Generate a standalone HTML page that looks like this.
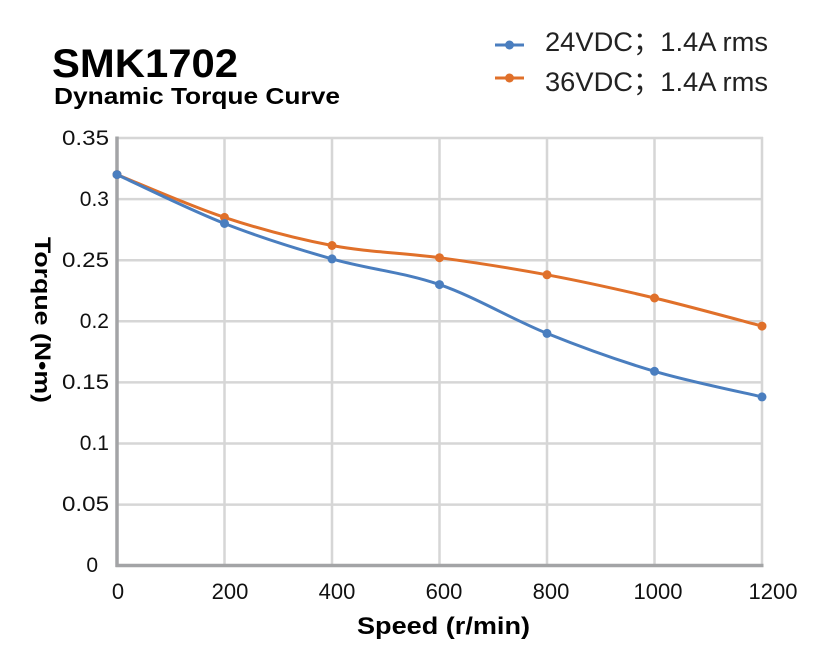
<!DOCTYPE html>
<html>
<head>
<meta charset="utf-8">
<style>
  html, body { margin: 0; padding: 0; background: #ffffff; }
  svg { display: block; }
  text { font-family: "Liberation Sans", "Noto Sans CJK SC", sans-serif; }
</style>
</head>
<body>
<svg width="831" height="660" viewBox="0 0 831 660" xmlns="http://www.w3.org/2000/svg">
  <rect width="831" height="660" fill="#ffffff"/>

  <!-- Title -->
  <text x="52" y="77" font-size="40" font-weight="bold" fill="#000" textLength="186" lengthAdjust="spacingAndGlyphs">SMK1702</text>
  <text x="54" y="104" font-size="23" font-weight="bold" fill="#000" textLength="286" lengthAdjust="spacingAndGlyphs">Dynamic Torque Curve</text>

  <!-- Legend -->
  <line x1="495" y1="45" x2="524" y2="45" stroke="#4A7EBF" stroke-width="3"/>
  <circle cx="509.5" cy="45" r="4.5" fill="#4A7EBF"/>
  <text x="545" y="51" font-size="27" fill="#222" textLength="223" lengthAdjust="spacingAndGlyphs">24VDC；1.4A rms</text>
  <line x1="495" y1="78" x2="524" y2="78" stroke="#E0702A" stroke-width="3"/>
  <circle cx="509.5" cy="78" r="4.5" fill="#E0702A"/>
  <text x="545" y="91" font-size="27" fill="#222" textLength="223" lengthAdjust="spacingAndGlyphs">36VDC；1.4A rms</text>

  <!-- Gridlines -->
  <g stroke="#d6d6d6" stroke-width="2.5">
    <line x1="117" y1="138" x2="763" y2="138"/>
    <line x1="117" y1="199.1" x2="763" y2="199.1"/>
    <line x1="117" y1="260.2" x2="763" y2="260.2"/>
    <line x1="117" y1="321.3" x2="763" y2="321.3"/>
    <line x1="117" y1="382.4" x2="763" y2="382.4"/>
    <line x1="117" y1="443.5" x2="763" y2="443.5"/>
    <line x1="117" y1="504.6" x2="763" y2="504.6"/>
    <line x1="224.5" y1="137" x2="224.5" y2="565"/>
    <line x1="332" y1="137" x2="332" y2="565"/>
    <line x1="439.5" y1="137" x2="439.5" y2="565"/>
    <line x1="547" y1="137" x2="547" y2="565"/>
    <line x1="654.5" y1="137" x2="654.5" y2="565"/>
    <line x1="762" y1="137" x2="762" y2="565"/>
  </g>

  <!-- Axes -->
  <g stroke="#a3a4a6" stroke-width="3.5">
    <line x1="117" y1="136.5" x2="117" y2="567"/>
    <line x1="115.5" y1="565.5" x2="763.5" y2="565.5"/>
  </g>

  <!-- Y tick labels -->
  <g font-size="21" fill="#111" text-anchor="end">
    <text x="109" y="145" textLength="47" lengthAdjust="spacingAndGlyphs">0.35</text>
    <text x="109" y="206">0.3</text>
    <text x="109" y="267" textLength="47" lengthAdjust="spacingAndGlyphs">0.25</text>
    <text x="109" y="328">0.2</text>
    <text x="109" y="389" textLength="47" lengthAdjust="spacingAndGlyphs">0.15</text>
    <text x="109" y="450">0.1</text>
    <text x="109" y="511" textLength="47" lengthAdjust="spacingAndGlyphs">0.05</text>
    <text x="98" y="572">0</text>
  </g>

  <!-- X tick labels -->
  <g font-size="22" fill="#111" text-anchor="middle">
    <text x="118" y="599">0</text>
    <text x="230" y="599">200</text>
    <text x="337" y="599">400</text>
    <text x="444" y="599">600</text>
    <text x="551" y="599">800</text>
    <text x="658" y="599">1000</text>
    <text x="773" y="599">1200</text>
  </g>

  <!-- Axis titles -->
  <text x="357" y="634" font-size="24" font-weight="bold" fill="#000" textLength="173" lengthAdjust="spacingAndGlyphs">Speed (r/min)</text>
  <text transform="translate(35,320) rotate(90)" x="0" y="0" font-size="22" font-weight="bold" fill="#000" text-anchor="middle" textLength="166" lengthAdjust="spacingAndGlyphs">Torque (N•m)</text>

  <!-- Orange series -->
  <path d="M117,174.6 C134.9,181.7 188.7,205.6 224.5,217.4 C260.3,229.2 296.2,238.8 332,245.5 C367.8,252.2 403.7,252.8 439.5,257.7 C475.3,262.6 511.2,268.1 547,274.8 C582.8,281.5 618.7,289.45 654.5,298 C690.3,306.55 744.1,321.4 762,326.1"
        fill="none" stroke="#E0702A" stroke-width="3" stroke-linejoin="round" stroke-linecap="round"/>
  <g fill="#E0702A">
    <circle cx="117" cy="174.6" r="4.5"/>
    <circle cx="224.5" cy="217.4" r="4.5"/>
    <circle cx="332" cy="245.5" r="4.5"/>
    <circle cx="439.5" cy="257.7" r="4.5"/>
    <circle cx="547" cy="274.8" r="4.5"/>
    <circle cx="654.5" cy="298" r="4.5"/>
    <circle cx="762" cy="326.1" r="4.5"/>
  </g>

  <!-- Blue series -->
  <path d="M117,174.6 C134.9,182.75 188.7,209.45 224.5,223.5 C260.3,237.55 296.2,248.7 332,258.9 C367.8,269.1 403.7,272.2 439.5,284.6 C475.3,297 511.2,318.95 547,333.4 C582.8,347.85 618.7,360.7 654.5,371.3 C690.3,381.9 744.1,392.6 762,396.9"
        fill="none" stroke="#4A7EBF" stroke-width="3" stroke-linejoin="round" stroke-linecap="round"/>
  <g fill="#4A7EBF">
    <circle cx="117" cy="174.6" r="4.5"/>
    <circle cx="224.5" cy="223.5" r="4.5"/>
    <circle cx="332" cy="258.9" r="4.5"/>
    <circle cx="439.5" cy="284.6" r="4.5"/>
    <circle cx="547" cy="333.4" r="4.5"/>
    <circle cx="654.5" cy="371.3" r="4.5"/>
    <circle cx="762" cy="396.9" r="4.5"/>
  </g>
</svg>
</body>
</html>
